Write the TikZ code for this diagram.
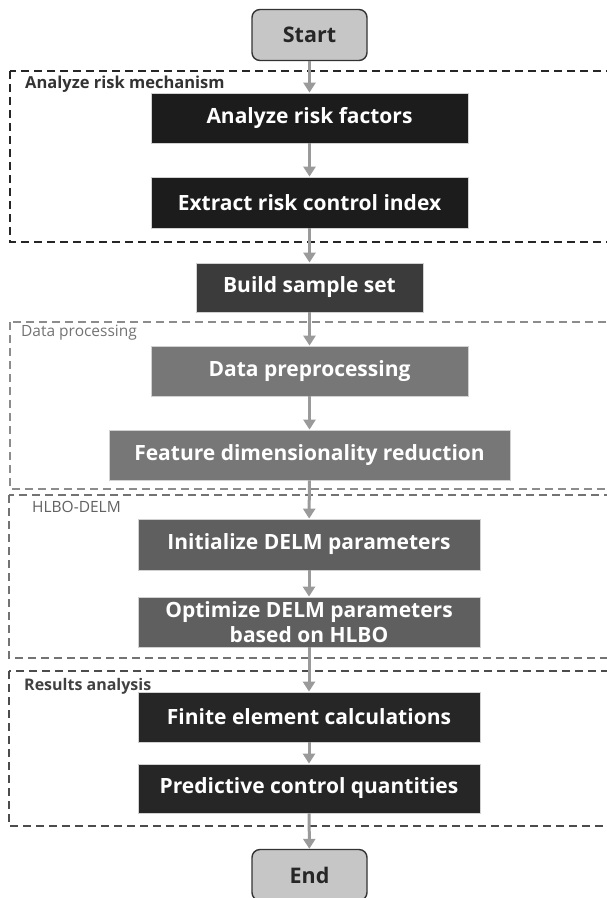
\documentclass[tikz,border=0pt]{standalone}
\usepackage{fontspec}
\setmainfont{Open Sans}
\usetikzlibrary{arrows.meta,backgrounds}

\definecolor{boxdark}{HTML}{1C1C1C}
\definecolor{boxsample}{HTML}{3B3B3B}
\definecolor{boxlight}{HTML}{777777}
\definecolor{boxmid}{HTML}{5F5F5F}
\definecolor{boxres}{HTML}{262626}
\definecolor{termfill}{HTML}{C6C6C6}
\definecolor{arrowgray}{HTML}{9A9A9A}

\tikzset{
  flowbox/.style={rectangle, draw=black!18, line width=0.8pt, fill=#1, text=white,
    font=\fontsize{21}{24.5}\selectfont\bfseries, inner sep=0pt, minimum height=50pt, align=center},
  termbox/.style={rectangle, rounded corners=8pt, draw=black!80, line width=1.4pt, fill=termfill,
    text=black!85, font=\fontsize{21.5}{24}\selectfont\bfseries, minimum width=115pt, minimum height=51pt},
  flowarrow/.style={draw=arrowgray, line width=3pt, -{Triangle[width=12pt,length=10pt]}},
  groupframe/.style={draw=#1, dash pattern=on 8pt off 5pt, line width=1.2pt},
  grouplabel/.style={anchor=west, inner sep=0pt, text=#1, font=\fontsize{15.5}{17}\selectfont}
}

\begin{document}
\begin{tikzpicture}[x=1pt,y=-1pt]
      \useasboundingbox (0,0) rectangle (606,898);
      % group frames
      \draw[groupframe=black!85, line width=1.5pt] (10,71) rectangle (609,242);
      \draw[groupframe=black!45] (10,322) rectangle (609,489);
      \draw[groupframe=black!55] (9,495) rectangle (609,658);
      \draw[groupframe=black!70] (9,671) rectangle (609,826);
      \node[grouplabel=black!80, font=\fontsize{16.5}{18}\selectfont\bfseries] (lbrisk) at (25,84) {Analyze risk mechanism};
      \node[grouplabel=black!55] (lbdata) at (21,333) {Data processing};
      \node[grouplabel=black!62] (lbhlbo) at (32,507) {HLBO-DELM};
      \node[grouplabel=black!75, font=\fontsize{16}{18}\selectfont\bfseries] (lbres) at (24,686) {Results analysis};
      % steps
      \node[termbox] (start) at (309.5,35) {Start};
      \node[flowbox=boxdark, minimum width=317pt] (fac) at (309.5,118) {Analyze risk factors};
      \node[flowbox=boxdark, minimum width=317pt, minimum height=51pt] (idx) at (309.5,202.5) {Extract risk control index};
      \node[flowbox=boxsample, minimum width=227pt, minimum height=49pt] (smp) at (309.5,287.5) {Build sample set};
      \node[flowbox=boxlight, minimum width=317pt] (pre) at (309.5,371) {Data preprocessing};
      \node[flowbox=boxlight, minimum width=401pt] (red) at (309.5,455) {Feature dimensionality reduction};
      \node[flowbox=boxmid, minimum width=342pt, minimum height=51pt] (ini) at (309,544.5) {Initialize DELM parameters};
      \node[flowbox=boxmid, minimum width=342pt] (opt) at (309,622) {Optimize DELM parameters\\based on HLBO};
      \node[flowbox=boxres, minimum width=342pt] (fin) at (309,717) {Finite element calculations};
      \node[flowbox=boxres, minimum width=342pt, minimum height=49pt] (prd) at (309,788.5) {Predictive control quantities};
      \node[termbox] (end) at (309.5,875) {End};
      % connectors
      \draw[flowarrow] (start) -- (fac);
      \draw[flowarrow] (fac) -- (idx);
      \draw[flowarrow] (idx) -- (smp);
      \draw[flowarrow] (smp) -- (pre);
      \draw[flowarrow] (pre) -- (red);
      \draw[flowarrow] (red) -- (ini);
      \draw[flowarrow] (ini) -- (opt);
      \draw[flowarrow] (opt) -- (fin);
      \draw[flowarrow] (fin) -- (prd);
      \draw[flowarrow] (prd) -- (end);
\end{tikzpicture}
\end{document}
